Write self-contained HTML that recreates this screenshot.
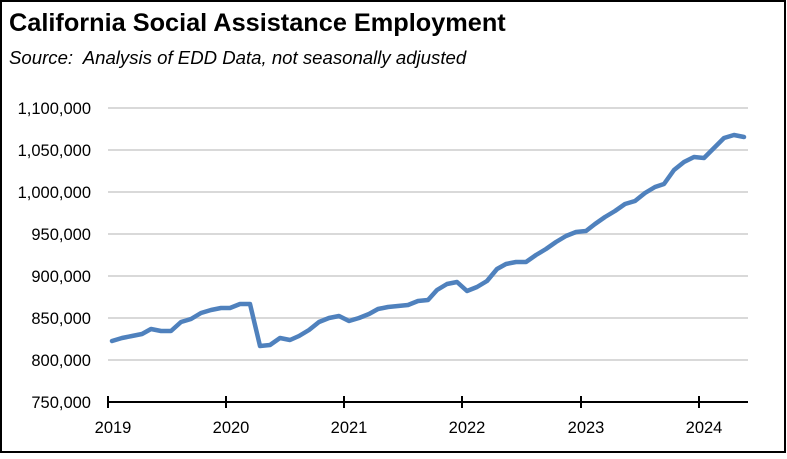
<!DOCTYPE html>
<html><head><meta charset="utf-8"><style>
html,body{margin:0;padding:0;background:#fff}
</style></head><body>
<svg width="787" height="454" xmlns="http://www.w3.org/2000/svg" font-family="Liberation Sans, sans-serif">
<rect x="1" y="1" width="784" height="451" fill="#fff" stroke="#000" stroke-width="2"/>
<text x="9" y="31" font-size="25.3" font-weight="bold" fill="#000">California Social Assistance Employment</text>
<text x="9" y="64" font-size="18.6" font-style="italic" fill="#000">Source:&#160; Analysis of EDD Data, not seasonally adjusted</text>
<g stroke="#d9d9d9" stroke-width="2">
<line x1="108" x2="748" y1="108" y2="108"/><line x1="108" x2="748" y1="150" y2="150"/>
<line x1="108" x2="748" y1="192" y2="192"/><line x1="108" x2="748" y1="234" y2="234"/>
<line x1="108" x2="748" y1="276" y2="276"/><line x1="108" x2="748" y1="318" y2="318"/>
<line x1="108" x2="748" y1="360" y2="360"/>
</g>
<g font-size="16.5" fill="#000" text-anchor="end">
<text x="91" y="114">1,100,000</text><text x="91" y="156">1,050,000</text>
<text x="91" y="198">1,000,000</text><text x="91" y="240">950,000</text>
<text x="91" y="282">900,000</text><text x="91" y="324">850,000</text>
<text x="91" y="366">800,000</text><text x="91" y="408">750,000</text>
</g>
<g stroke="#000" stroke-width="2">
<line x1="108" x2="748" y1="402" y2="402"/>
<line x1="108" x2="108" y1="396" y2="408"/><line x1="226" x2="226" y1="396" y2="408"/>
<line x1="344" x2="344" y1="396" y2="408"/><line x1="462" x2="462" y1="396" y2="408"/>
<line x1="581" x2="581" y1="396" y2="408"/><line x1="699" x2="699" y1="396" y2="408"/>
</g>
<g font-size="16.5" fill="#000" text-anchor="middle">
<text x="113" y="433">2019</text><text x="231" y="433">2020</text><text x="349" y="433">2021</text>
<text x="467" y="433">2022</text><text x="586" y="433">2023</text><text x="704" y="433">2024</text>
</g>
<polyline fill="none" stroke="#4f81bd" stroke-width="4.5" stroke-linejoin="round" stroke-linecap="round" points="112,341 122,338 132,336 142,334 151,329 161,331 171,331 181,322 191,319 201,313 211,310 221,308 230,308 240,304 250,304 260,346 270,345 280,338 290,340 299,336 309,330 319,322 329,318 339,316 349,321 359,318 369,314 378,309 388,307 398,306 408,305 418,301 428,300 437,290 447,284 457,282 467,291 477,287 487,281 497,269 506,264 516,262 526,262 536,255 546,249 556,242 566,236 576,232 586,231 595,224 605,217 615,211 625,204 635,201 645,193 655,187 664,184 674,170 684,162 694,157 704,158 714,148 724,138 734,135 744,137"/>
</svg>
</body></html>
